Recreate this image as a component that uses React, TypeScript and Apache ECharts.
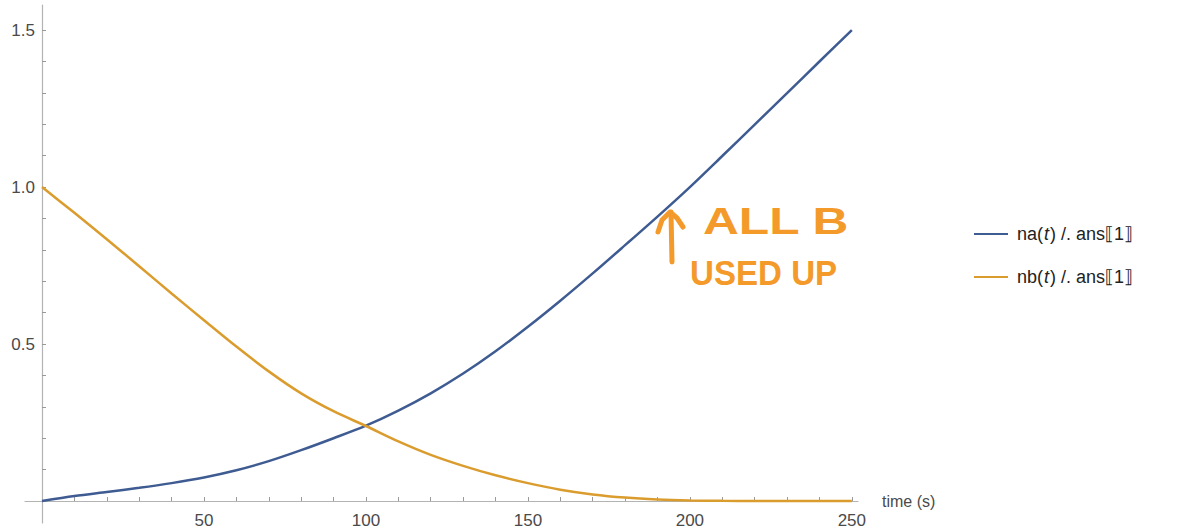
import React, { useEffect, useRef } from "react";
import * as echarts from "echarts";

const times = [0, 10, 20, 30, 40, 50, 60, 70, 80, 90, 100, 110, 120, 130, 140, 150, 160, 170, 180, 190, 200, 210, 220, 230, 240, 250];
const naValues = [0, 0.016, 0.029, 0.042, 0.057, 0.075, 0.098, 0.127, 0.162, 0.200, 0.240, 0.288, 0.343, 0.406, 0.477, 0.555, 0.638, 0.725, 0.815, 0.906, 1.0, 1.099, 1.199, 1.299, 1.4, 1.5];
const nbValues = [1.0, 0.918, 0.834, 0.748, 0.661, 0.576, 0.492, 0.413, 0.343, 0.286, 0.239, 0.190, 0.147, 0.112, 0.082, 0.057, 0.036, 0.021, 0.011, 0.005, 0.002, 0.0008, 0.0002, 0, 0, 0];

const xLabelValues = [50, 100, 150, 200, 250];
const xTickValues = [10, 20, 30, 40, 50, 60, 70, 80, 90, 100, 110, 120, 130, 140, 150, 160, 170, 180, 190, 200, 210, 220, 230, 240, 250];
const yLabelValues = [0.5, 1.0, 1.5];
const yTickValues = [0.1, 0.2, 0.3, 0.4, 0.5, 0.6, 0.7, 0.8, 0.9, 1.0, 1.1, 1.2, 1.3, 1.4, 1.5];

const seriesNames = ["na(t) /. ans⟦1⟧", "nb(t) /. ans⟦1⟧"];
const xAxisName = "time (s)";
const noteLines = ["ALL B", "USED UP"];

const FONT = "'Liberation Sans', Arial, 'DejaVu Sans', sans-serif";
const AXIS_COLOR = "#b3b3b3";
const LABEL_COLOR = "#4a4a4a";
const BLUE = "#3E5B92";
const GOLD = "#DB9C2E";
const NOTE = "#F39A2A";

export default function App() {
  const ref = useRef<HTMLDivElement>(null);
  useEffect(() => {
    if (!ref.current) return;
    const chart = echarts.init(ref.current, null, { renderer: "svg" });
    const mk = (vals: number[]) => times.map((t, i) => [t, vals[i]]);
    chart.setOption({
      animation: false,
      backgroundColor: "#ffffff",
      grid: { left: 25, right: 319, top: 5, bottom: 6, containLabel: false, outerBoundsMode: "none" },
      xAxis: {
        type: "value",
        min: -5.25,
        max: 251.9,
        name: xAxisName,
        nameLocation: "end",
        nameGap: 24,
        nameTextStyle: { fontFamily: FONT, fontSize: 16, color: LABEL_COLOR, padding: [0, 0, 8, 0] },
        axisLine: { show: true, onZero: true, lineStyle: { color: AXIS_COLOR, width: 1.2 } },
        axisTick: { show: true, inside: true, length: 4, customValues: xTickValues, lineStyle: { color: "#999" } },
        axisLabel: {
          customValues: xLabelValues,
          margin: -11,
          fontFamily: FONT,
          fontSize: 17,
          color: LABEL_COLOR,
        },
        splitLine: { show: false },
      },
      yAxis: {
        type: "value",
        min: -0.07,
        max: 1.58,
        axisLine: { show: true, onZero: true, lineStyle: { color: AXIS_COLOR, width: 1.2 } },
        axisTick: { show: true, inside: true, length: 4, customValues: yTickValues, lineStyle: { color: "#999" } },
        axisLabel: {
          customValues: yLabelValues,
          margin: -10,
          fontFamily: FONT,
          fontSize: 17,
          color: LABEL_COLOR,
          formatter: (v: number) => v.toFixed(1),
        },
        splitLine: { show: false },
      },
      legend: {
        orient: "vertical",
        left: 969,
        top: 220,
        itemWidth: 34,
        itemHeight: 14,
        itemGap: 25,
        icon: "path://M0,6 L34,6 L34,8 L0,8 Z",
        data: seriesNames,
        formatter: (name: string) => {
          const idx = name.indexOf("(t)");
          const head = name.slice(0, idx + 1);
          const tail = name.slice(idx + 2);
          return `{n|${head}}{i|t}{n|${tail}}`;
        },
        textStyle: {
          fontFamily: FONT,
          fontSize: 18,
          color: "#222",
          padding: [0, 0, 0, 4],
          rich: {
            n: { fontFamily: FONT, fontSize: 18, color: "#222" },
            i: { fontFamily: FONT, fontSize: 18, color: "#222", fontStyle: "italic", padding: [0, 1, 0, 1] },
          },
        },
      },
      series: [
        {
          name: seriesNames[0],
          type: "line",
          data: mk(naValues),
          smooth: 0.3,
          showSymbol: false,
          lineStyle: { color: BLUE, width: 2.5 },
          itemStyle: { color: BLUE },
        },
        {
          name: seriesNames[1],
          type: "line",
          data: mk(nbValues),
          smooth: 0.3,
          showSymbol: false,
          lineStyle: { color: GOLD, width: 2.5 },
          itemStyle: { color: GOLD },
        },
      ],
      graphic: [
        {
          type: "polyline",
          shape: { points: [[672, 262], [671, 212]] },
          style: { stroke: NOTE, lineWidth: 5, lineCap: "round", fill: null },
        },
        {
          type: "polyline",
          shape: { points: [[658, 232], [662, 220], [670, 212], [677, 218], [683, 227]] },
          style: { stroke: NOTE, lineWidth: 5, lineCap: "round", lineJoin: "round", fill: null },
        },
        {
          type: "text",
          x: 703,
          y: 222,
          scaleX: 1.38,
          style: {
            text: noteLines[0],
            fontFamily: FONT,
            fontWeight: "bold",
            fontSize: 36,
            fill: NOTE,
            verticalAlign: "middle",
            align: "left",
          },
        },
        {
          type: "text",
          x: 690,
          y: 273,
          scaleX: 0.92,
          style: {
            text: noteLines[1],
            fontFamily: FONT,
            fontWeight: "bold",
            fontSize: 36,
            fill: NOTE,
            verticalAlign: "middle",
            align: "left",
          },
        },
      ],
    });
    return () => chart.dispose();
  }, []);
  return <div ref={ref} style={{ position: "absolute", left: 0, top: 0, width: 1177, height: 529 }} />;
}
